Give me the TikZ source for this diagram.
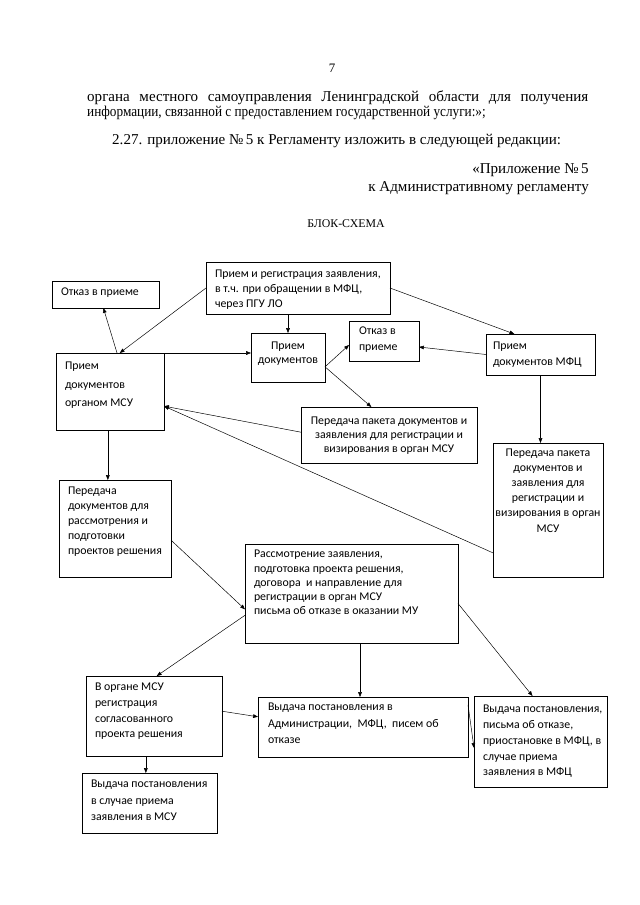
\documentclass[tikz,border=0pt]{standalone}
\usepackage{graphicx}
\usepackage{fontspec}
\setmainfont{Liberation Serif}
\newfontfamily\boxfont{Carlito}
\usetikzlibrary{arrows.meta,calc,fit}
\newcommand\bxs{\rule{0pt}{10pt}}
\begin{document}
\begin{tikzpicture}[x=0.93pt,y=-0.93pt,
  box/.style={draw, line width=0.55pt, inner sep=0pt, outer sep=0pt},
  bt/.style={font=\boxfont\fontsize{11}{#1}\selectfont, inner sep=0pt, outer sep=0pt, anchor=north west, align=left},
  btc/.style={font=\boxfont\fontsize{11}{#1}\selectfont, inner sep=0pt, outer sep=0pt, anchor=north, align=center},
  conn/.style={line width=0.45pt, -{Triangle[length=4.5pt,width=3.4pt]}},
  doc/.style={font=\fontsize{14}{16}\selectfont, inner sep=0pt, anchor=base west}
]
\fill[white] (0,0) rectangle (640,905);
\useasboundingbox (0,0) rectangle (640,905);

% document text
\node[doc, font=\fontsize{12}{14}\selectfont, anchor=base] (pg) at (332,72) {7};
\node[doc] (p1) at (87,101) {\makebox[466pt][s]{органа местного самоуправления Ленинградской области для получения}};
\node[doc] (p2) at (87,116) {\scalebox{0.88}[1]{информации, связанной с предоставлением государственной услуги:»;}};
\node[doc] (p3) at (112,144) {2.27. приложение №\,5 к Регламенту изложить в следующей редакции:};
\node[doc, anchor=base east] (p4) at (589,173) {«Приложение №\,5};
\node[doc, anchor=base east] (p5) at (589,191) {к Административному регламенту};
\node[doc, font=\fontsize{11}{13}\selectfont, anchor=base] (title) at (346,227) {БЛОК-СХЕМА};

% boxes
\node[box, fit={(206,262) (390,314)}] (b1) {};
\node[box, fit={(52,281) (159,308)}] (b2) {};
\node[box, fit={(56,353) (164,430)}] (b3) {};
\node[box, fit={(251,333) (325,382)}] (b4) {};
\node[box, fit={(349,321) (419,361)}] (b5) {};
\node[box, fit={(486,334) (595,375)}] (b6) {};
\node[box, fit={(301,407) (477,463)}] (b7) {};
\node[box, fit={(493,443) (603,577)}] (b8) {};
\node[box, fit={(59,480) (171,577)}] (b9) {};
\node[box, fit={(245,544) (458,643)}] (b10) {};
\node[box, fit={(86,676) (222,756)}] (b11) {};
\node[box, fit={(258,697) (468,757)}] (b12) {};
\node[box, fit={(474,696) (607,787)}] (b13) {};
\node[box, fit={(82,773) (217,833)}] (b14) {};

% box texts
\node[bt=14] (t1) at (215,267) {\bxs Прием и регистрация заявления,\\в т.ч. при обращении в МФЦ,\\через ПГУ ЛО};
\node[bt=14] (t2) at (61,285) {\bxs Отказ в приеме};
\node[bt=17.2] (t3) at (65,359) {\bxs Прием\\документов\\органом МСУ};
\node[btc=13] (t4) at (288,339) {\bxs Прием\\документов};
\node[bt=14.9] (t5) at (359,324) {\bxs Отказ в\\приеме};
\node[bt=14.9] (t6) at (493,339) {\bxs Прием\\документов МФЦ};
\node[btc=13] (t7) at (389,414) {\bxs Передача пакета документов и\\заявления для регистрации и\\визирования в орган МСУ};
\node[btc=14] (t8) at (548,446) {\bxs Передача пакета\\документов и\\заявления для\\регистрации и\\визирования в орган\\МСУ};
\node[bt=14] (t9) at (68,484) {\bxs Передача\\документов для\\рассмотрения и\\подготовки\\проектов решения};
\node[bt=13.3] (t10) at (254,547) {\bxs Рассмотрение заявления,\\подготовка проекта решения,\\договора\ \ и направление для\\регистрации в орган МСУ\\письма об отказе в оказании МУ};
\node[bt=14.6] (t11) at (95,680) {\bxs В органе МСУ\\регистрация\\согласованного\\проекта решения};
\node[bt=15.3] (t12) at (268,700) {\bxs Выдача постановления в\\Администрации,\ \ МФЦ,\ \ писем об\\отказе};
\node[bt=14.7] (t13) at (483,702) {\bxs Выдача постановления,\\письма об отказе,\\приостановке в МФЦ, в\\случае приема\\заявления в МФЦ};
\node[bt=15.3] (t14) at (91,777) {\bxs Выдача постановления\\в случае приема\\заявления в МСУ};

% connectors
\draw[conn] (b1.west) -- ($(b3.north west)!0.59!(b3.north east)$);
\draw[conn] ($(b3.north west)!0.565!(b3.north east)$) -- ($(b2.south west)!0.48!(b2.south east)$);
\draw[conn] (b3.north east) -- (b3.north east -| b4.west);
\draw[conn] (b4.north |- b1.south) -- (b4.north);
\coordinate (e0) at ($(b4.north east)!0.69!(b4.south east)$);
\draw[conn] (e0) -- ($(b5.north west)!0.6!(b5.south west)$);
\draw[conn] (e0) -- ($(b7.north west)!0.4!(b7.north east)$);
\draw[conn] (b6.west) -- ($(b5.north east)!0.65!(b5.south east)$);
\draw[conn] (b1.east) -- ($(b6.north west)!0.26!(b6.north east)$);
\draw[conn] (b6.south) -- (b6.south |- b8.north);
\coordinate (j0) at ($(b3.north east)!0.69!(b3.south east)$);
\draw[conn] ($(b7.north west)!0.45!(b7.south west)$) -- (j0);
\draw[conn] ($(b8.north west)!0.82!(b8.south west)$) -- (j0);
\coordinate (l0) at ($(b3.south west)!0.48!(b3.south east)$);
\draw[conn] (l0) -- (l0 |- b9.north);
\draw[conn] ($(b9.north east)!0.62!(b9.south east)$) -- ($(b10.north west)!0.66!(b10.south west)$);
\draw[conn] ($(b10.north west)!0.72!(b10.south west)$) -- ($(b11.north west)!0.52!(b11.north east)$);
\coordinate (o0) at ($(b10.south west)!0.54!(b10.south east)$);
\draw[conn] (o0) -- (o0 |- b12.north);
\draw[conn] ($(b10.north east)!0.6!(b10.south east)$) -- ($(b13.north west)!0.44!(b13.north east)$);
\draw[conn] ($(b11.north east)!0.44!(b11.south east)$) -- ($(b12.north west)!0.33!(b12.south west)$);
\draw[conn] ($(b12.north east)!0.13!(b12.south east)$) -- ($(b13.north west)!0.57!(b13.south west)$);
\coordinate (s0) at ($(b11.south west)!0.44!(b11.south east)$);
\draw[conn] (s0) -- (s0 |- b14.north);
\end{tikzpicture}
\end{document}
